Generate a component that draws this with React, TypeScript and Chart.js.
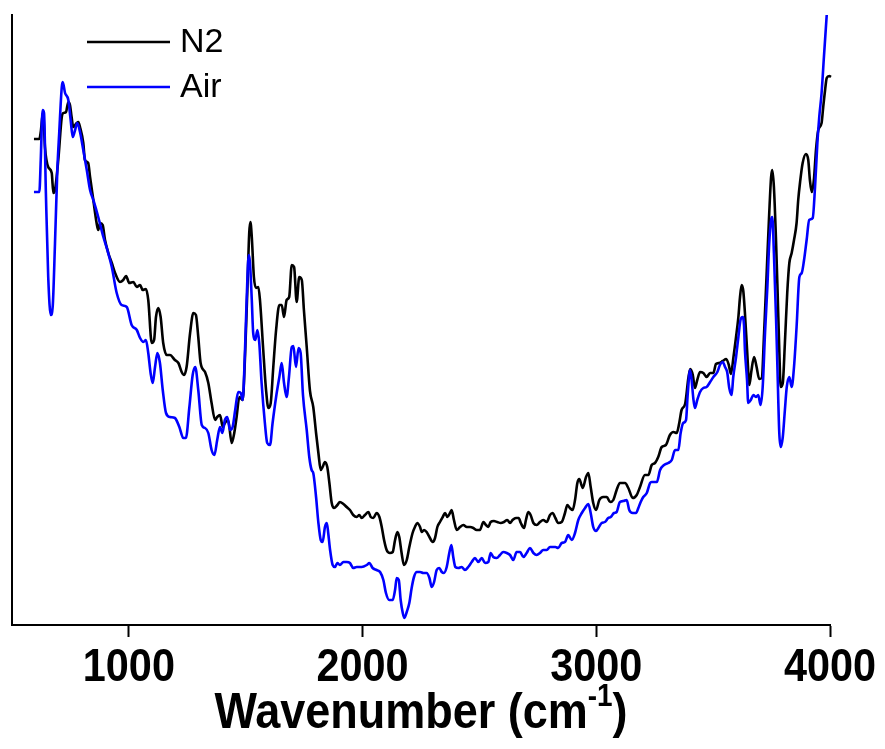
import React, { useEffect, useRef } from "react";
import { Chart, registerables } from "chart.js";

Chart.register(...registerables);

// FTIR spectra: [wavenumber (cm-1), signal (a.u.)]
const n2Spectrum: [number, number][] = [
  [594, 486], [617, 486], [623, 493], [633, 513], [641, 478], [655, 458], [670, 452], [677, 432], [684, 435], [698, 465],
  [713, 508], [720, 512], [731, 513], [741, 523], [748, 520], [755, 508], [762, 498], [777, 502], [784, 503], [791, 498],
  [805, 482], [812, 465], [826, 462], [834, 448], [848, 425], [862, 402], [869, 395], [877, 402], [888, 400], [898, 385],
  [912, 372], [927, 362], [941, 352], [962, 343], [976, 345], [988, 349], [1002, 342], [1019, 343], [1034, 338], [1048, 340],
  [1059, 335], [1073, 336], [1083, 325], [1098, 282], [1108, 285], [1116, 308], [1126, 317], [1136, 308], [1147, 282], [1162, 270],
  [1176, 270], [1197, 265], [1212, 262], [1226, 253], [1236, 250], [1247, 258], [1262, 292], [1276, 312], [1287, 310], [1297, 288],
  [1307, 262], [1326, 253], [1340, 242], [1354, 222], [1369, 205], [1378, 208], [1390, 210], [1402, 198], [1411, 202], [1425, 205],
  [1440, 182], [1451, 192], [1461, 208], [1473, 228], [1487, 225], [1497, 268], [1507, 335], [1515, 392], [1520, 403], [1526, 388],
  [1535, 348], [1544, 337], [1554, 338], [1561, 325], [1575, 275], [1587, 235], [1597, 217], [1607, 222], [1618, 258], [1630, 295],
  [1644, 320], [1654, 320], [1664, 308], [1675, 325], [1686, 328], [1697, 360], [1707, 358], [1718, 323], [1729, 348], [1740, 345],
  [1749, 315], [1761, 278], [1775, 234], [1789, 218], [1801, 192], [1811, 172], [1821, 155], [1829, 158], [1839, 163], [1849, 158],
  [1858, 142], [1868, 122], [1878, 117], [1892, 120], [1903, 123], [1918, 121], [1932, 118], [1946, 115], [1960, 110], [1975, 108],
  [1986, 110], [1996, 107], [2010, 110], [2025, 113], [2035, 108], [2046, 107], [2060, 112], [2072, 108], [2082, 98], [2092, 85],
  [2103, 75], [2117, 72], [2129, 73], [2139, 85], [2149, 93], [2157, 88], [2167, 72], [2177, 60], [2189, 65], [2200, 78],
  [2214, 92], [2224, 98], [2234, 102], [2246, 98], [2253, 93], [2263, 95], [2274, 93], [2286, 88], [2300, 83], [2310, 87],
  [2320, 98], [2331, 103], [2343, 108], [2353, 112], [2363, 108], [2374, 112], [2381, 115], [2391, 105], [2403, 95], [2417, 98],
  [2431, 100], [2446, 98], [2460, 98], [2474, 97], [2488, 95], [2502, 95], [2517, 103], [2528, 100], [2538, 98], [2548, 103],
  [2562, 104], [2576, 103], [2591, 102], [2605, 103], [2619, 105], [2631, 102], [2642, 105], [2656, 107], [2668, 107], [2677, 102],
  [2691, 97], [2699, 105], [2709, 113], [2719, 110], [2731, 102], [2745, 100], [2759, 103], [2773, 105], [2788, 103], [2802, 110],
  [2813, 112], [2825, 107], [2837, 102], [2852, 103], [2866, 112], [2876, 120], [2887, 117], [2899, 115], [2909, 125], [2919, 142],
  [2927, 146], [2942, 137], [2956, 148], [2966, 152], [2976, 138], [2987, 122], [2999, 115], [3013, 125], [3030, 128], [3045, 128],
  [3059, 123], [3073, 125], [3087, 135], [3101, 142], [3123, 142], [3137, 137], [3156, 127], [3173, 130], [3187, 138], [3208, 150],
  [3223, 150], [3237, 160], [3251, 162], [3265, 168], [3280, 178], [3298, 180], [3315, 190], [3330, 193], [3344, 192], [3355, 202],
  [3365, 215], [3380, 221], [3394, 247], [3402, 256], [3413, 250], [3422, 237], [3432, 245], [3444, 253], [3458, 252], [3472, 248],
  [3487, 252], [3501, 252], [3512, 261], [3526, 262], [3541, 264], [3556, 266], [3567, 260], [3576, 251], [3587, 268], [3598, 288],
  [3608, 308], [3615, 328], [3622, 340], [3629, 334], [3636, 312], [3646, 272], [3655, 240], [3663, 253], [3675, 268], [3686, 258],
  [3697, 246], [3708, 247], [3718, 292], [3729, 352], [3740, 412], [3748, 448], [3753, 455], [3760, 438], [3769, 385], [3776, 332],
  [3783, 275], [3789, 238], [3798, 242], [3807, 282], [3817, 332], [3826, 362], [3836, 372], [3846, 385], [3857, 402], [3864, 425],
  [3872, 443], [3883, 462], [3897, 471], [3907, 465], [3914, 445], [3922, 433], [3931, 445], [3940, 475], [3950, 495], [3964, 502],
  [3971, 518], [3979, 535], [3986, 547], [3997, 549], [4004, 548],
];

const airSpectrum: [number, number][] = [
  [594, 433], [617, 433], [623, 465], [631, 515], [637, 512], [645, 432], [655, 348], [666, 310], [674, 318], [684, 382],
  [694, 455], [702, 492], [713, 538], [717, 543], [727, 532], [741, 525], [751, 505], [760, 488], [770, 495], [779, 502],
  [791, 493], [805, 475], [820, 455], [834, 435], [848, 425], [869, 408], [891, 388], [908, 375], [927, 358], [948, 332],
  [969, 320], [991, 318], [1012, 300], [1034, 295], [1048, 287], [1062, 283], [1073, 285], [1083, 272], [1093, 252], [1102, 242],
  [1112, 258], [1122, 272], [1133, 262], [1145, 235], [1159, 212], [1176, 208], [1197, 207], [1216, 198], [1233, 187], [1244, 187],
  [1259, 218], [1273, 250], [1284, 258], [1297, 235], [1312, 200], [1326, 197], [1340, 192], [1354, 175], [1366, 170], [1378, 185],
  [1390, 198], [1400, 192], [1411, 205], [1421, 208], [1433, 195], [1444, 198], [1455, 215], [1468, 233], [1479, 232], [1487, 225],
  [1497, 275], [1504, 325], [1513, 370], [1518, 363], [1526, 325], [1532, 292], [1541, 285], [1550, 295], [1558, 282], [1568, 242],
  [1582, 202], [1592, 182], [1604, 180], [1615, 202], [1630, 228], [1644, 248], [1654, 262], [1664, 242], [1675, 228], [1685, 248],
  [1697, 278], [1704, 279], [1715, 258], [1726, 277], [1735, 272], [1745, 230], [1761, 195], [1772, 168], [1782, 155], [1789, 152],
  [1801, 128], [1811, 102], [1821, 85], [1829, 83], [1839, 98], [1847, 102], [1853, 92], [1861, 75], [1872, 60], [1882, 58],
  [1892, 62], [1903, 60], [1918, 63], [1932, 63], [1946, 62], [1960, 57], [1975, 58], [1996, 58], [2018, 60], [2029, 62],
  [2043, 57], [2060, 55], [2075, 53], [2089, 45], [2100, 32], [2114, 25], [2129, 25], [2139, 35], [2146, 47], [2155, 45],
  [2163, 25], [2172, 12], [2179, 7], [2189, 13], [2200, 22], [2210, 37], [2220, 48], [2232, 53], [2246, 53], [2260, 52],
  [2274, 52], [2286, 47], [2296, 38], [2306, 43], [2317, 55], [2328, 57], [2339, 53], [2348, 52], [2360, 58], [2371, 72],
  [2380, 80], [2388, 68], [2397, 58], [2410, 57], [2424, 58], [2438, 55], [2452, 58], [2467, 63], [2481, 67], [2495, 63],
  [2510, 67], [2524, 62], [2538, 63], [2548, 72], [2559, 68], [2574, 67], [2588, 70], [2602, 73], [2617, 72], [2631, 70],
  [2645, 65], [2659, 73], [2674, 73], [2688, 68], [2702, 72], [2716, 77], [2731, 72], [2745, 70], [2759, 72], [2773, 75],
  [2788, 75], [2802, 78], [2825, 78], [2837, 77], [2852, 82], [2866, 83], [2880, 90], [2895, 85], [2909, 92], [2923, 105],
  [2938, 112], [2952, 117], [2966, 121], [2976, 112], [2987, 98], [2999, 94], [3009, 97], [3023, 102], [3037, 103], [3051, 107],
  [3062, 108], [3076, 112], [3087, 113], [3101, 123], [3116, 124], [3130, 125], [3141, 115], [3156, 112], [3170, 112], [3180, 117],
  [3190, 123], [3201, 128], [3216, 132], [3230, 142], [3237, 143], [3259, 143], [3273, 155], [3290, 160], [3308, 162], [3323, 165],
  [3337, 175], [3351, 175], [3361, 192], [3372, 202], [3384, 205], [3391, 230], [3401, 255], [3408, 245], [3415, 227], [3422, 217],
  [3432, 225], [3444, 233], [3458, 237], [3472, 238], [3487, 243], [3501, 248], [3518, 253], [3529, 260], [3541, 263], [3551, 258],
  [3560, 253], [3569, 237], [3579, 230], [3586, 248], [3598, 268], [3608, 288], [3617, 305], [3626, 308], [3632, 300], [3636, 275],
  [3645, 245], [3650, 222], [3661, 225], [3672, 230], [3683, 228], [3693, 230], [3703, 220], [3712, 238], [3722, 292], [3732, 338],
  [3740, 382], [3748, 405], [3753, 408], [3760, 372], [3769, 308], [3775, 258], [3783, 192], [3789, 178], [3798, 188], [3807, 215],
  [3815, 238], [3826, 248], [3836, 238], [3846, 258], [3857, 298], [3869, 348], [3879, 352], [3889, 365], [3900, 385], [3911, 405],
  [3926, 407], [3936, 438], [3946, 482], [3954, 508], [3964, 532], [3974, 568], [3986, 610],
];

const seriesNames = ["N2", "Air"];
const seriesColors = ["#000000", "#0000ff"];
const wavenumberTicks = [1000, 2000, 3000, 4000];
const xRange = [500, 4000];
const yRange = [0, 610];
const axisTitleMain = "Wavenumber (cm";
const axisTitleSup = "-1";
const axisTitleEnd = ")";

const FONT = '"Liberation Sans", Arial, Helvetica, sans-serif';
const CONDENSE = 0.9; // horizontal squeeze of the bold axis lettering

// Legend in the top-left corner: short line sample followed by the series name
const spectrumLegend = {
  id: "spectrumLegend",
  afterDraw(chart: any) {
    const { ctx, chartArea } = chart;
    ctx.save();
    ctx.font = `34px ${FONT}`;
    ctx.textBaseline = "middle";
    ctx.textAlign = "left";
    seriesNames.forEach((name, i) => {
      const y = chartArea.top + 27 + i * 45;
      ctx.strokeStyle = seriesColors[i];
      ctx.lineWidth = 2.6;
      ctx.beginPath();
      ctx.moveTo(chartArea.left + 75, y);
      ctx.lineTo(chartArea.left + 158, y);
      ctx.stroke();
      ctx.fillStyle = "#000";
      ctx.fillText(name, chartArea.left + 168, y + 1);
    });
    ctx.restore();
  },
};

// Bold, slightly condensed tick labels placed at the x scale's tick positions
const wavenumberTickLabels = {
  id: "wavenumberTickLabels",
  afterDraw(chart: any) {
    const { ctx } = chart;
    const xScale = chart.scales.x;
    ctx.save();
    ctx.font = `bold 46px ${FONT}`;
    ctx.fillStyle = "#000";
    ctx.textAlign = "center";
    ctx.textBaseline = "alphabetic";
    xScale.ticks.forEach((tick: any) => {
      const px = xScale.getPixelForValue(tick.value);
      ctx.save();
      ctx.translate(px, xScale.top + 56);
      ctx.scale(CONDENSE, 1);
      ctx.fillText(String(tick.value), 0, 0);
      ctx.restore();
    });
    ctx.restore();
  },
};

// X axis title with a superscript exponent
const wavenumberTitle = {
  id: "wavenumberTitle",
  afterDraw(chart: any) {
    const { ctx, chartArea } = chart;
    ctx.save();
    const mainFont = `bold 50px ${FONT}`;
    const supFont = `bold 31px ${FONT}`;
    ctx.font = mainFont;
    const w1 = ctx.measureText(axisTitleMain).width;
    const w3 = ctx.measureText(axisTitleEnd).width;
    ctx.font = supFont;
    const w2 = ctx.measureText(axisTitleSup).width;
    const total = w1 + w2 + w3;
    const cx = (chartArea.left + chartArea.right) / 2;
    ctx.translate(cx, 728);
    ctx.scale(CONDENSE, 1);
    let x = -total / 2;
    ctx.fillStyle = "#000";
    ctx.textBaseline = "alphabetic";
    ctx.textAlign = "left";
    ctx.font = mainFont;
    ctx.fillText(axisTitleMain, x, 0);
    x += w1;
    ctx.font = supFont;
    ctx.fillText(axisTitleSup, x, -22);
    x += w2;
    ctx.font = mainFont;
    ctx.fillText(axisTitleEnd, x, 0);
    ctx.restore();
  },
};

export default function App() {
  const canvasRef = useRef<HTMLCanvasElement>(null);

  useEffect(() => {
    const canvas = canvasRef.current;
    if (!canvas) return;
    const series = [n2Spectrum, airSpectrum];
    const chart = new Chart(canvas, {
      type: "line",
      data: {
        datasets: series.map((points, i) => ({
          label: seriesNames[i],
          data: points.map(([x, y]) => ({ x, y })),
          borderColor: seriesColors[i],
          backgroundColor: seriesColors[i],
          borderWidth: 2.6,
          pointRadius: 0,
          cubicInterpolationMode: "monotone" as const,
          clip: false as any,
          order: i === 0 ? 1 : 0,
        })),
      },
      options: {
        responsive: false,
        animation: false,
        devicePixelRatio: 1,
        layout: { padding: { top: 15, right: 55, left: 0, bottom: 0 } },
        plugins: {
          legend: { display: false },
          tooltip: { enabled: false },
          title: { display: false },
        },
        scales: {
          x: {
            type: "linear",
            min: xRange[0],
            max: xRange[1],
            afterBuildTicks: (scale: any) => {
              scale.ticks = wavenumberTicks.map((v) => ({ value: v }));
            },
            afterFit: (scale: any) => {
              scale.height = 124;
            },
            grid: {
              display: true,
              drawOnChartArea: false,
              drawTicks: true,
              tickLength: 12,
              tickWidth: 2,
              tickColor: "#000",
            },
            border: { display: true, color: "#000", width: 2 },
            ticks: { display: false },
          },
          y: {
            type: "linear",
            min: yRange[0],
            max: yRange[1],
            afterFit: (scale: any) => {
              scale.width = 12;
            },
            grid: { display: false, drawTicks: false },
            border: { display: true, color: "#000", width: 2 },
            ticks: { display: false },
          },
        },
      } as any,
      plugins: [spectrumLegend, wavenumberTickLabels, wavenumberTitle],
    });
    return () => chart.destroy();
  }, []);

  return (
    <div
      style={{
        position: "fixed",
        left: 0,
        top: 0,
        width: 885,
        height: 749,
        background: "#ffffff",
      }}
    >
      <canvas
        ref={canvasRef}
        width={885}
        height={749}
        style={{ display: "block", width: 885, height: 749 }}
      />
    </div>
  );
}
